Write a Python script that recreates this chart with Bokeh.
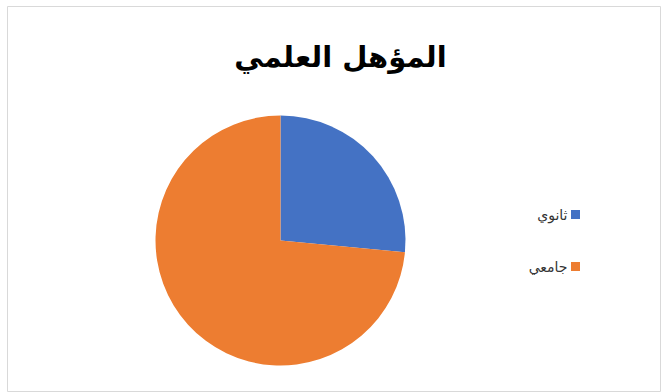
import math
from bokeh.plotting import figure
from bokeh.models import Range1d, ColumnDataSource
from bokeh.core.properties import value
from bokeh.embed import file_html
from bokeh.resources import INLINE

title_text = "المؤهل العلمي"
categories = ["ثانوي", "جامعي"]
values = [26.5, 73.5]
colors = ["#4472C4", "#ED7D31"]

W, H = 661, 392
p = figure(width=W, height=H, output_backend="svg", toolbar_location=None,
           x_range=Range1d(7, 661), y_range=Range1d(H - 391, H - 6),
           min_border_left=7, min_border_top=6, min_border_right=0, min_border_bottom=1)
p.axis.visible = False
p.grid.visible = False
p.outline_line_color = "#d9d9d9"
p.outline_line_width = 1
p.background_fill_color = "white"
p.border_fill_color = "white"

total = sum(values)
starts, ends = [], []
acc = 0.0
for v in values:
    s = math.pi / 2 - acc / total * 2 * math.pi
    acc += v
    e = math.pi / 2 - acc / total * 2 * math.pi
    starts.append(s)
    ends.append(e)

src = ColumnDataSource(dict(start=starts, end=ends, color=colors, cat=categories))
p.wedge(x=280, y=H - 240, radius=125, radius_units="screen",
        start_angle="start", end_angle="end", direction="clock",
        fill_color="color", line_color=None, source=src)

p.text(x=[340], y=[H - 56], text=[title_text], text_font=value("DejaVu Sans"),
       text_font_style="bold", text_font_size="29px", text_color="black",
       text_align="center", text_baseline="middle")

leg_y = [H - 214, H - 266]
p.rect(x=[575] * len(categories), y=leg_y, width=9, height=9,
       width_units="screen", height_units="screen", fill_color=colors, line_color=None)
p.text(x=[567] * len(categories), y=leg_y, text=categories, text_font=value("DejaVu Sans"),
       text_font_size="14px", text_color="#333333", text_align="right", text_baseline="middle")

open("out.html", "w").write(file_html(p, INLINE))
